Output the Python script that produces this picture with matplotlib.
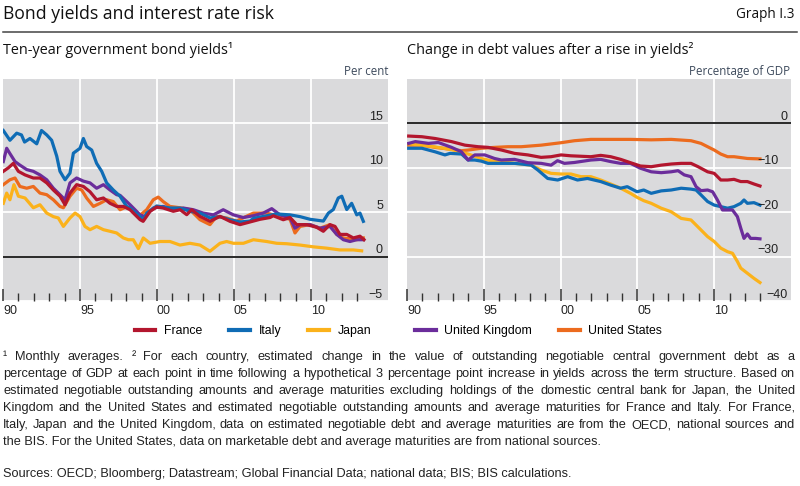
import matplotlib
matplotlib.use("Agg")
import matplotlib.pyplot as plt
from matplotlib.lines import Line2D

# ---- data (year, value) ----
france_yield = [(1990.02, 9.6), (1990.35, 10.0), (1990.67, 10.5), (1991.0, 9.6), (1991.43, 9.2), (1991.97, 8.85),
                (1992.4, 8.85), (1992.84, 8.3), (1993.27, 7.5), (1993.7, 6.8), (1994.03, 5.84), (1994.35, 7.15),
                (1994.78, 8.1), (1995.22, 7.9), (1995.65, 7.3), (1996.08, 6.4), (1996.52, 6.6), (1996.95, 6.0),
                (1997.38, 5.65), (1997.81, 5.65), (1998.25, 5.28), (1998.9, 4.16), (1999.1, 3.97), (1999.55, 5.1),
                (1999.98, 5.58), (2000.4, 5.47), (2001.06, 5.1), (2001.5, 5.28), (2001.93, 4.72), (2002.25, 5.28),
                (2002.79, 4.53), (2003.44, 3.97), (2004.09, 4.53), (2004.74, 3.97), (2005.39, 3.6), (2006.04, 3.9),
                (2006.69, 4.2), (2007.34, 4.4), (2007.55, 4.6), (2008.2, 4.15), (2008.64, 4.4), (2009.07, 3.6),
                (2009.72, 3.6), (2010.37, 3.3), (2010.8, 2.85), (2011.23, 3.6), (2011.56, 3.4), (2011.88, 2.5),
                (2012.32, 2.5), (2012.75, 2.1), (2013.18, 2.3), (2013.44, 1.9)]
italy_yield = [(1990.02, 14.2), (1990.45, 13.1), (1990.89, 13.9), (1991.2, 13.7), (1991.4, 12.9), (1991.75, 13.3),
               (1992.19, 12.7), (1992.5, 14.2), (1992.84, 13.7), (1993.16, 13.1), (1993.49, 11.3), (1993.7, 9.6),
               (1994.03, 8.65), (1994.35, 9.4), (1994.57, 11.65), (1995.0, 12.2), (1995.22, 13.3), (1995.43, 12.4),
               (1995.76, 12.0), (1996.08, 10.5), (1996.41, 9.6), (1996.73, 8.3), (1997.16, 7.5), (1997.6, 6.8),
               (1998.03, 5.65), (1998.25, 5.47), (1998.9, 4.5), (1999.1, 4.1), (1999.33, 4.9), (1999.98, 5.7),
               (2000.84, 5.47), (2001.5, 5.47), (2002.14, 5.1), (2002.79, 4.9), (2003.44, 4.35), (2004.09, 4.5),
               (2004.74, 4.15), (2005.39, 3.9), (2006.04, 4.0), (2006.26, 4.3), (2007.12, 4.6), (2007.77, 4.8),
               (2008.64, 4.7), (2009.29, 4.5), (2009.94, 4.2), (2010.8, 4.0), (2011.13, 4.9), (2011.45, 5.3),
               (2011.77, 6.6), (2012.0, 6.8), (2012.32, 5.3), (2012.64, 6.0), (2012.97, 4.7), (2013.18, 4.9),
               (2013.4, 3.97)]
japan_yield = [(1990.02, 6.0), (1990.24, 7.15), (1990.45, 6.4), (1990.71, 8.1), (1991.0, 6.8), (1991.43, 6.6),
               (1991.97, 5.5), (1992.4, 5.84), (1992.84, 4.9), (1993.27, 4.5), (1993.59, 4.35), (1993.92, 3.4),
               (1994.35, 4.35), (1994.68, 4.9), (1995.0, 4.5), (1995.32, 3.4), (1995.65, 3.03), (1996.08, 3.4),
               (1996.52, 3.03), (1996.95, 2.85), (1997.38, 2.66), (1997.81, 2.1), (1998.14, 1.9), (1998.46, 1.9),
               (1998.79, 0.9), (1999.11, 2.1), (1999.55, 1.5), (2000.19, 1.7), (2000.84, 1.7), (2001.49, 1.3),
               (2002.14, 1.5), (2002.79, 1.3), (2003.44, 0.6), (2004.09, 1.5), (2004.52, 1.7), (2004.96, 1.5),
               (2005.61, 1.5), (2006.26, 1.9), (2007.12, 1.7), (2007.77, 1.5), (2008.42, 1.45), (2009.29, 1.3),
               (2010.15, 1.1), (2011.02, 0.95), (2011.88, 0.75), (2012.75, 0.75), (2013.29, 0.65)]
uk_yield = [(1990.02, 10.7), (1990.24, 12.2), (1990.45, 11.6), (1990.78, 10.7), (1991.1, 10.3), (1991.54, 9.8),
            (1991.97, 9.6), (1992.4, 9.2), (1992.84, 8.65), (1993.27, 7.7), (1993.7, 6.97), (1994.03, 6.4),
            (1994.35, 8.3), (1994.78, 8.85), (1995.22, 8.5), (1995.65, 8.3), (1996.08, 7.7), (1996.52, 8.1),
            (1996.95, 7.5), (1997.38, 6.97), (1997.6, 6.9), (1998.03, 6.2), (1998.25, 5.84), (1998.9, 4.7),
            (1999.2, 4.5), (1999.76, 5.47), (2000.4, 5.65), (2001.06, 5.28), (2001.71, 5.47), (2002.36, 5.28),
            (2003.0, 4.9), (2003.66, 4.7), (2004.3, 5.28), (2004.96, 4.7), (2005.6, 4.4), (2006.26, 4.6),
            (2006.9, 4.9), (2007.45, 5.4), (2007.99, 4.7), (2008.64, 4.35), (2008.96, 3.2), (2009.29, 3.6),
            (2009.94, 3.6), (2010.58, 3.2), (2011.23, 3.4), (2011.67, 2.5), (2012.1, 1.9), (2012.53, 1.7),
            (2012.97, 1.9), (2013.4, 1.9)]
us_yield = [(1990.02, 8.1), (1990.45, 8.65), (1990.78, 8.85), (1991.1, 7.9), (1991.54, 7.7), (1991.97, 7.9),
            (1992.4, 7.15), (1992.84, 6.97), (1993.27, 6.4), (1993.7, 5.65), (1993.92, 5.5), (1994.35, 6.8),
            (1994.78, 7.7), (1995.11, 7.5), (1995.43, 6.6), (1995.87, 5.65), (1996.3, 6.0), (1996.73, 6.4),
            (1997.16, 6.2), (1997.6, 5.28), (1998.03, 5.6), (1998.46, 5.1), (1998.79, 4.5), (1999.33, 5.28),
            (1999.76, 6.4), (2000.08, 6.7), (2000.4, 6.2), (2000.84, 5.65), (2001.5, 5.5), (2002.14, 5.28),
            (2002.79, 4.16), (2003.44, 3.6), (2003.87, 4.53), (2004.52, 4.35), (2005.17, 4.0), (2005.39, 4.2),
            (2006.26, 4.9), (2007.12, 4.9), (2007.99, 4.5), (2008.64, 4.2), (2008.96, 2.66), (2009.29, 3.4),
            (2009.94, 3.6), (2010.58, 3.2), (2011.23, 3.6), (2011.67, 2.5), (2012.1, 2.1), (2012.53, 2.0),
            (2012.97, 1.9), (2013.4, 2.1)]

france_debt = [(1990.11, -2.85), (1990.97, -3.0), (1991.83, -3.4), (1992.9, -4.1), (1993.77, -4.9), (1994.63, -5.25),
               (1995.28, -5.4), (1996.15, -6.0), (1997.0, -6.75), (1997.87, -7.1), (1998.73, -7.65), (1999.38, -7.5),
               (2000.03, -7.1), (2000.67, -7.3), (2001.32, -7.4), (2001.97, -7.5), (2002.61, -7.2), (2003.26, -7.5),
               (2003.91, -8.1), (2004.55, -8.85), (2005.2, -9.6), (2005.9, -9.75), (2006.55, -9.4), (2007.2, -9.15),
               (2007.85, -9.0), (2008.49, -9.0), (2008.95, -9.75), (2009.57, -10.9), (2010.0, -11.25), (2010.43, -12.75),
               (2010.87, -12.75), (2011.29, -12.6), (2011.73, -13.1), (2012.16, -13.1), (2012.59, -13.65), (2012.98, -14.1)]
italy_debt = [(1990.11, -5.6), (1990.97, -5.6), (1991.83, -6.4), (1992.47, -7.1), (1992.8, -6.75), (1993.55, -6.9),
              (1993.98, -8.25), (1994.41, -8.25), (1994.84, -8.5), (1995.28, -9.0), (1996.15, -9.0), (1997.0, -9.0),
              (1997.44, -9.15), (1998.09, -9.4), (1998.52, -10.5), (1999.16, -12.4), (1999.81, -12.75), (2000.46, -12.0),
              (2001.1, -12.75), (2001.75, -12.4), (2002.61, -13.1), (2003.26, -13.9), (2003.91, -14.6), (2004.34, -14.25),
              (2004.98, -15.4), (2005.41, -15.0), (2005.9, -15.75), (2006.55, -15.2), (2007.2, -15.0), (2007.85, -14.6),
              (2008.49, -14.8), (2008.82, -15.0), (2009.14, -16.1), (2009.57, -17.6), (2010.0, -18.4), (2010.43, -18.75),
              (2010.87, -19.1), (2011.29, -18.75), (2011.73, -18.0), (2011.94, -17.25), (2012.16, -18.0),
              (2012.59, -17.85), (2012.98, -18.4)]
japan_debt = [(1990.11, -4.6), (1990.97, -4.9), (1991.83, -5.3), (1992.9, -5.9), (1993.98, -6.9), (1994.84, -7.9),
              (1995.7, -8.6), (1996.58, -8.8), (1997.44, -9.15), (1998.09, -9.4), (1998.73, -10.5), (1999.38, -11.25),
              (2000.03, -11.4), (2000.67, -11.4), (2001.32, -12.0), (2001.97, -12.0), (2002.61, -12.75), (2003.26, -13.65),
              (2003.91, -14.6), (2004.55, -15.75), (2004.98, -16.65), (2005.41, -17.4), (2005.9, -18.0), (2006.55, -19.1),
              (2007.2, -19.9), (2007.85, -21.4), (2008.49, -21.75), (2009.14, -24.0), (2009.57, -25.5), (2010.0, -26.6),
              (2010.43, -28.1), (2010.87, -28.9), (2011.19, -29.25), (2011.51, -31.1), (2011.73, -32.6),
              (2012.16, -33.75), (2012.59, -34.9), (2012.98, -35.85)]
uk_debt = [(1990.11, -4.5), (1990.54, -4.1), (1991.4, -4.5), (1992.04, -4.3), (1992.9, -5.4), (1993.55, -6.4),
           (1993.98, -8.25), (1994.41, -7.1), (1995.06, -7.1), (1995.7, -7.9), (1996.15, -8.25), (1997.0, -8.1),
           (1997.87, -8.85), (1998.73, -9.0), (1999.38, -9.4), (1999.8, -8.4), (2000.25, -9.0), (2000.9, -8.8),
           (2001.97, -8.25), (2002.61, -8.1), (2003.26, -8.6), (2003.91, -9.0), (2004.55, -9.0), (2005.2, -10.1),
           (2005.9, -10.9), (2006.55, -11.1), (2007.2, -10.9), (2007.65, -10.65), (2008.05, -11.6), (2008.49, -12.0),
           (2008.82, -14.25), (2009.14, -15.15), (2009.57, -15.0), (2009.9, -15.4), (2010.21, -17.25), (2010.54, -19.5),
           (2010.87, -19.5), (2011.19, -19.5), (2011.51, -21.0), (2011.73, -23.6), (2011.94, -25.9), (2012.16, -24.9),
           (2012.37, -25.9), (2012.7, -25.9), (2012.98, -26.0)]
us_debt = [(1990.11, -4.9), (1990.97, -4.9), (1991.83, -5.4), (1992.9, -5.85), (1993.55, -6.15), (1993.98, -6.0),
           (1994.84, -5.6), (1995.7, -5.4), (1996.58, -5.25), (1997.44, -5.25), (1998.73, -4.9), (2000.03, -4.35),
           (2000.9, -3.9), (2001.97, -3.6), (2003.26, -3.6), (2004.55, -3.6), (2005.9, -3.7), (2007.2, -3.6),
           (2008.49, -3.9), (2009.14, -4.5), (2009.57, -5.25), (2010.0, -6.0), (2010.43, -6.9), (2010.87, -7.5),
           (2011.29, -7.5), (2011.73, -7.7), (2012.16, -7.9), (2012.98, -8.0)]

left_ticks = [-5, 0, 5, 10, 15]
left_labels = ['\u22125', '0', '5', '10', '15']
right_ticks = [-40, -30, -20, -10, 0]
right_labels = ['\u221240', '\u221230', '\u221220', '\u221210', '0']
year_ticks = [1990, 1995, 2000, 2005, 2010]
year_labels = ['90', '95', '00', '05', '10']

colors = {'France': '#b3162e', 'Italy': '#0f6cb5', 'Japan': '#fbb21b',
          'United Kingdom': '#6b2d9b', 'United States': '#ec6b1e'}

footnote_lines = [
    "\u00b9 Monthly averages.  \u00b2 For each country, estimated change in the value of outstanding negotiable central government debt as a",
    "percentage of GDP at each point in time following a hypothetical 3 percentage point increase in yields across the term structure. Based on",
    "estimated negotiable outstanding amounts and average maturities excluding holdings of the domestic central bank for Japan, the United",
    "Kingdom and the United States and estimated negotiable outstanding amounts and average maturities for France and Italy. For France,",
    "Italy, Japan and the United Kingdom, data on estimated negotiable debt and average maturities are from the OECD, national sources and",
    "the BIS. For the United States, data on marketable debt and average maturities are from national sources.",
]
sources = "Sources: OECD; Bloomberg; Datastream; Global Financial Data; national data; BIS; BIS calculations."

SANS = ['Liberation Sans', 'DejaVu Sans']
HEAD = ['Open Sans', 'DejaVu Sans']
W, H = 800, 486
BG = '#dadadc'


def fx(px):
    return px / W


def fy(py):
    return 1 - py / H


fig = plt.figure(figsize=(8, 4.86), dpi=100)
ax1 = fig.add_axes([fx(3), fy(301), 385 / W, 222 / H])
ax2 = fig.add_axes([fx(407), fy(301), 384 / W, 222 / H])


def style(ax, xlim, ylim, ticks, labels, label_x):
    ax.set_facecolor(BG)
    for s in ax.spines.values():
        s.set_visible(False)
    ax.set_xlim(*xlim)
    ax.set_ylim(*ylim)
    for t in ticks:
        if t != 0:
            ax.axhline(t, color='white', lw=1.3, zorder=1)
    for yr in year_ticks[1:]:
        ax.axvline(yr, color='white', lw=1.3, zorder=1)
    ax.axhline(0, color='#2a2a2a', lw=1.4, zorder=2)
    ax.set_yticks([])
    ax.set_xticks(year_ticks, labels=year_labels)
    ax.set_xticks([y for y in range(1991, 2014) if y not in year_ticks], minor=True)
    ax.tick_params(axis='x', which='major', direction='in', length=9, width=1.1, color='#333',
                   pad=3, labelsize=9, labelcolor='#222')
    ax.tick_params(axis='x', which='minor', direction='in', length=5.5, width=1.0, color='#333')
    for lab in ax.get_xticklabels():
        lab.set_horizontalalignment('left')
        lab.set_family(SANS)
    for t, lab, lx in zip(ticks, labels, label_x):
        ax.annotate(lab, xy=(lx, t), xycoords=ax.get_yaxis_transform(), xytext=(0, 2.5),
                    textcoords='offset points', ha='right', va='baseline', fontsize=9,
                    family=SANS, color='#222', zorder=5)


style(ax1, (1990, 2015), (-5, 20), left_ticks, left_labels, [0.987] * 5)
style(ax2, (1990.1, 2015), (-40, 10), right_ticks, right_labels, [0.99, 0.968, 0.968, 0.968, 0.99])

LW = 2.3
for name, data in [('United States', us_yield), ('Japan', japan_yield), ('United Kingdom', uk_yield),
                   ('Italy', italy_yield), ('France', france_yield)]:
    ax1.plot([d[0] for d in data], [d[1] for d in data], color=colors[name], lw=LW, zorder=3)
for name, data in [('United States', us_debt), ('Japan', japan_debt), ('Italy', italy_debt),
                   ('United Kingdom', uk_debt), ('France', france_debt)]:
    ax2.plot([d[0] for d in data], [d[1] for d in data], color=colors[name], lw=LW, zorder=3)

# headings
fig.text(fx(3), fy(14), 'Bond yields and interest rate risk', fontsize=12.7, family=HEAD,
         color='#111', va='center')
fig.text(fx(795), fy(15), 'Graph I.3', fontsize=9.8, family=HEAD, color='#111', va='center', ha='right')
fig.add_artist(Line2D([fx(3), fx(797)], [fy(32), fy(32)], color='#444', lw=1.1))
fig.text(fx(3), fy(50), 'Ten-year government bond yields\u00b9', fontsize=10.4, family=HEAD, color='#111', va='center')
fig.text(fx(407), fy(50), 'Change in debt values after a rise in yields\u00b2', fontsize=10.4, family=HEAD,
         color='#111', va='center')
fig.text(fx(388), fy(71), 'Per cent', fontsize=8.3, family=HEAD, color='#3d4a5c', va='center', ha='right')
fig.text(fx(790), fy(71), 'Percentage of GDP', fontsize=8.3, family=HEAD, color='#3d4a5c', va='center', ha='right')


# legend
def handles(names):
    return [Line2D([], [], color=colors[n], lw=3) for n in names]


leg_kw = dict(frameon=False, handlelength=1.7, handletextpad=0.7, columnspacing=2.2,
              borderpad=0, borderaxespad=0, prop={'family': SANS, 'size': 8.8})
fig.legend(handles(['France', 'Italy', 'Japan']), ['France', 'Italy', 'Japan'], ncol=3,
           loc='center right', bbox_to_anchor=(fx(371), fy(331)), **leg_kw)
fig.legend(handles(['United Kingdom', 'United States']), ['United Kingdom', 'United States'], ncol=2,
           loc='center left', bbox_to_anchor=(fx(415), fy(331)), **leg_kw)

# footnotes, justified to the full width
renderer = fig.canvas.get_renderer()
foot_kw = dict(fontsize=9.2, family=SANS, color='#222', va='center', ha='left')
for i, line in enumerate(footnote_lines):
    y = fy(357 + 17 * i)
    if i == len(footnote_lines) - 1:
        fig.text(fx(3), y, line, **foot_kw)
        continue
    words = line.split()
    texts = [fig.text(0, y, w, **foot_kw) for w in words]
    widths = [t.get_window_extent(renderer=renderer).width for t in texts]
    gap = (792 - sum(widths)) / (len(words) - 1)
    x = 3
    for t, w in zip(texts, widths):
        t.set_x(fx(x))
        x += w + gap
fig.text(fx(3), fy(474), sources, **foot_kw)

fig.savefig('out.png', dpi=100)
